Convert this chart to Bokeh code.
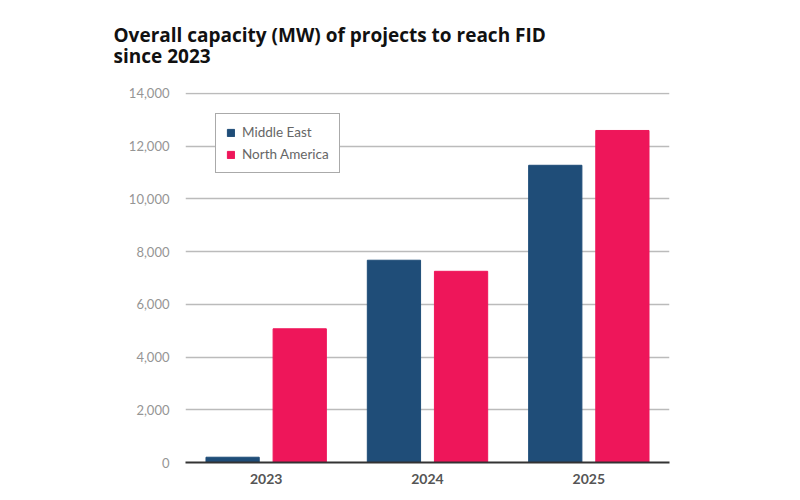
from bokeh.plotting import figure
from bokeh.models import ColumnDataSource, FactorRange, NumeralTickFormatter, FixedTicker, Range1d
from bokeh.transform import dodge
from bokeh.embed import file_html
from bokeh.resources import INLINE

years = ["2023", "2024", "2025"]
middle_east = [200, 7670, 11270]
north_america = [5070, 7250, 12590]
y_ticks = [0, 2000, 4000, 6000, 8000, 10000, 12000, 14000]
title_lines = ["Overall capacity (MW) of projects to reach FID", "since 2023"]

source = ColumnDataSource(data=dict(year=years, me=middle_east, na=north_america))

p = figure(
    width=800, height=500,
    x_range=FactorRange(*years, range_padding=0),
    y_range=Range1d(0, 14030),
    output_backend="svg", toolbar_location=None,
    min_border_left=185, min_border_right=131, min_border_top=92, min_border_bottom=38,
    title="\n".join(title_lines),
)
p.outline_line_color = None
p.background_fill_color = "white"
p.border_fill_color = "white"

p.title.text_font = "Open Sans"
p.title.text_font_size = "19px"
p.title.text_font_style = "bold"
p.title.text_color = "#111111"
p.title.text_line_height = 0.82
p.title.vertical_align = "top"
p.title.offset = -72
p.title.standoff = 43

p.vbar(x=dodge("year", -0.208, range=p.x_range), top="me", width=0.33, source=source,
       color="#1F4D78", legend_label="Middle East")
p.vbar(x=dodge("year", 0.208, range=p.x_range), top="na", width=0.33, source=source,
       color="#EE165A", legend_label="North America")

p.xgrid.grid_line_color = None
p.ygrid.grid_line_color = "#BBBBBB"
p.ygrid.grid_line_width = 1.5
p.yaxis.ticker = FixedTicker(ticks=y_ticks)
p.yaxis.formatter = NumeralTickFormatter(format="0,0")
p.yaxis.axis_line_color = None
p.yaxis.major_tick_line_color = None
p.yaxis.minor_tick_line_color = None
p.yaxis.major_label_standoff = 10
p.yaxis.major_label_text_font = "Lato"
p.yaxis.major_label_text_font_size = "13px"
p.yaxis.major_label_text_color = "#959595"

p.xaxis.axis_line_color = "#333333"
p.xaxis.axis_line_width = 2
p.xaxis.major_tick_line_color = None
p.xaxis.minor_tick_line_color = None
p.xaxis.major_label_standoff = 5
p.xaxis.major_label_text_font = "Lato"
p.xaxis.major_label_text_font_style = "bold"
p.xaxis.major_label_text_font_size = "14px"
p.xaxis.major_label_text_color = "#555555"

leg = p.legend[0]
leg.location = (30, 289)
leg.border_line_color = "#555555"
leg.border_line_width = 1
leg.background_fill_color = "white"
leg.background_fill_alpha = 1
leg.label_text_font = "Lato"
leg.label_text_font_size = "13.5px"
leg.label_text_color = "#666666"
leg.glyph_width = 9
leg.glyph_height = 9
leg.label_standoff = 7
leg.spacing = 6
leg.padding = 10
leg.margin = 0

open("out.html", "w").write(file_html(p, INLINE))
